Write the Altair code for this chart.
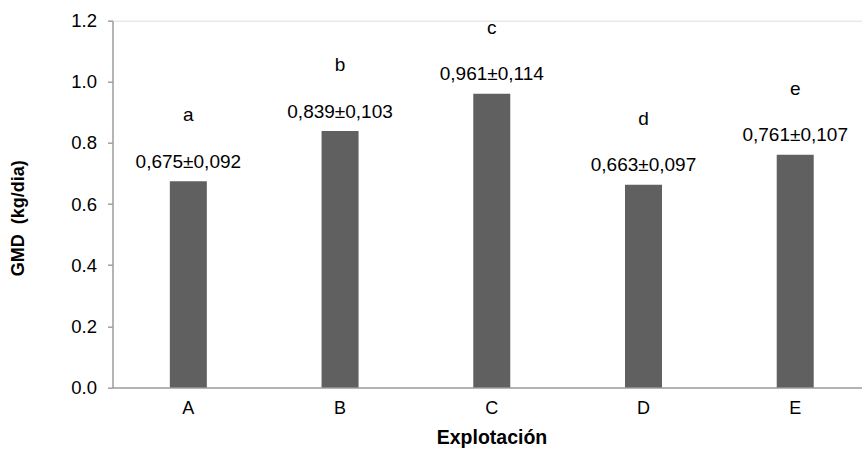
import altair as alt
import pandas as pd

explotacion = ["A", "B", "C", "D", "E"]
gmd = [0.675, 0.839, 0.961, 0.663, 0.761]
value_labels = ["0,675±0,092", "0,839±0,103", "0,961±0,114", "0,663±0,097", "0,761±0,107"]
letters = ["a", "b", "c", "d", "e"]
y_ticks = [0.0, 0.2, 0.4, 0.6, 0.8, 1.0, 1.2]

df = pd.DataFrame({"Explotación": explotacion, "GMD": gmd,
                   "label": value_labels, "letter": letters})

FONT = "Liberation Sans"
AX = "#a0a0a0"

x_enc = alt.X("Explotación:N", sort=explotacion,
              scale=alt.Scale(paddingInner=0.754, paddingOuter=0.347, align=0.543),
              axis=alt.Axis(title="Explotación", labelAngle=0, ticks=False,
                            labelPadding=12, labelFontSize=18, labelColor="#000000",
                            labelFont=FONT, titleFont=FONT, titleFontSize=19.5,
                            titleFontWeight="bold", titleColor="#000000",
                            titleX=379, titleY=56, titleBaseline="alphabetic",
                            titleAlign="center",
                            domainColor=AX, domainWidth=1.5))
y_enc = alt.Y("GMD:Q",
              scale=alt.Scale(domain=[0, 1.2], nice=False, zero=True),
              axis=alt.Axis(title="GMD\u00a0 (kg/dia)", values=y_ticks, format=".1f",
                            grid=False, tickSize=5, tickColor=AX, tickWidth=1.5,
                            labelPadding=11, labelFontSize=18.5, labelColor="#000000",
                            labelFont=FONT, titleFont=FONT, titleFontSize=18,
                            titleFontWeight="bold", titleColor="#000000",
                            titleAngle=270, titleX=-94, titleY=197,
                            titleAlign="center", titleBaseline="middle",
                            domainColor=AX, domainWidth=1.5))

bars = alt.Chart(df).mark_bar(color="#606060", size=37).encode(x=x_enc, y=y_enc)

vals = alt.Chart(df).mark_text(font=FONT, fontSize=19, color="#000000",
                               baseline="alphabetic", dy=-13.5).encode(
    x=alt.X("Explotación:N", sort=explotacion), y="GMD:Q", text="label:N")

lets = alt.Chart(df).mark_text(font=FONT, fontSize=19, color="#000000",
                               baseline="alphabetic", dy=-60).encode(
    x=alt.X("Explotación:N", sort=explotacion), y="GMD:Q", text="letter:N")

chart = (bars + vals + lets).properties(
    width=749.5, height=366.7,
    autosize=alt.AutoSizeParams(type="none"),
    padding={"left": 112.5, "top": 20.7, "right": 0, "bottom": 61.6},
).configure_view(stroke=None).configure(background="white")

chart.save("out.html", embed_options={"renderer": "svg", "actions": False})
